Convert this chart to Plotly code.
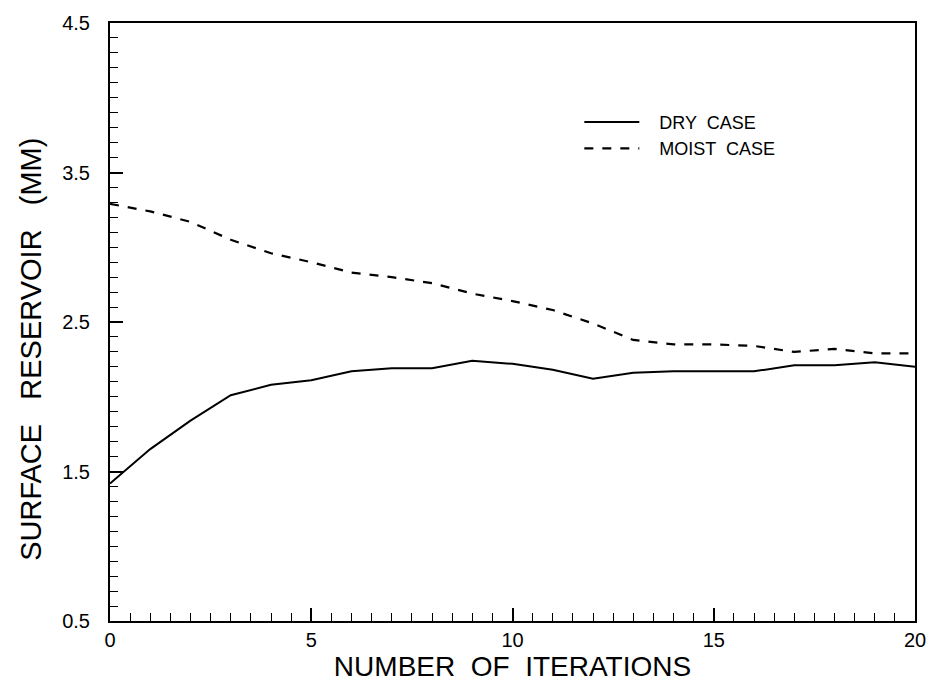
import plotly.graph_objects as go

iterations = list(range(21))
dry_case = [1.42, 1.65, 1.84, 2.01, 2.08, 2.11, 2.17, 2.19, 2.19, 2.24, 2.22,
            2.18, 2.12, 2.16, 2.17, 2.17, 2.17, 2.21, 2.21, 2.23, 2.20]
moist_case = [3.29, 3.24, 3.17, 3.05, 2.96, 2.90, 2.83, 2.80, 2.76, 2.69, 2.64,
              2.58, 2.49, 2.38, 2.35, 2.35, 2.34, 2.30, 2.32, 2.29, 2.29]
x_ticks = [0, 5, 10, 15, 20]
y_ticks = [0.5, 1.5, 2.5, 3.5, 4.5]
y_title = "SURFACE   RESERVOIR   (MM)"
x_title = "NUMBER  OF  ITERATIONS"

FONT = "Liberation Sans, Arial, sans-serif"

fig = go.Figure()
fig.add_trace(go.Scatter(x=iterations, y=dry_case, mode="lines", name="   DRY  CASE",
                         line=dict(color="black", width=2, dash="solid")))
fig.add_trace(go.Scatter(x=iterations, y=moist_case, mode="lines", name="   MOIST  CASE",
                         line=dict(color="black", width=2.2, dash="dash")))

fig.update_layout(
    width=938, height=684,
    paper_bgcolor="white", plot_bgcolor="white",
    margin=dict(l=110, r=19, t=18, b=63),
    font=dict(family=FONT, color="black"),
    showlegend=True,
    legend=dict(x=0.583, y=0.865, xanchor="left", yanchor="top",
                bgcolor="rgba(0,0,0,0)", font=dict(size=18, family=FONT),
                tracegroupgap=0, itemwidth=55),
    xaxis=dict(
        range=[0, 20], tickvals=x_ticks, ticktext=[str(v) for v in x_ticks],
        ticks="inside", ticklen=13, tickwidth=1.5, tickcolor="black",
        minor=dict(dtick=0.5, ticks="inside", ticklen=8, tickcolor="black", tickwidth=1.2),
        showline=True, linecolor="black", linewidth=2, mirror=True,
        showgrid=False, zeroline=False,
        tickfont=dict(size=20, family=FONT),
        title=dict(text=x_title, font=dict(size=28, family=FONT), standoff=0),
    ),
    yaxis=dict(
        range=[0.5, 4.5], tickvals=y_ticks, ticktext=[str(v) for v in y_ticks],
        ticks="inside", ticklen=13, tickwidth=1.5, tickcolor="black",
        minor=dict(dtick=0.1, ticks="inside", ticklen=8, tickcolor="black", tickwidth=1.2),
        showline=True, linecolor="black", linewidth=2, mirror=True,
        showgrid=False, zeroline=False,
        ticklabelstandoff=14,
        tickfont=dict(size=20, family=FONT),
    ),
    annotations=[dict(
        text=y_title, textangle=-90, xref="paper", yref="paper",
        x=-0.099, y=0.454, xanchor="center", yanchor="middle", showarrow=False,
        font=dict(size=29, family=FONT, color="black"),
    )],
)

fig.write_html("out.html", config={"displayModeBar": False})
with open("out.html", "r", encoding="utf-8") as f:
    html = f.read()
html = html.replace("<head>", "<head><style>html,body{margin:0;padding:0;overflow:hidden;}</style>", 1)
with open("out.html", "w", encoding="utf-8") as f:
    f.write(html)
